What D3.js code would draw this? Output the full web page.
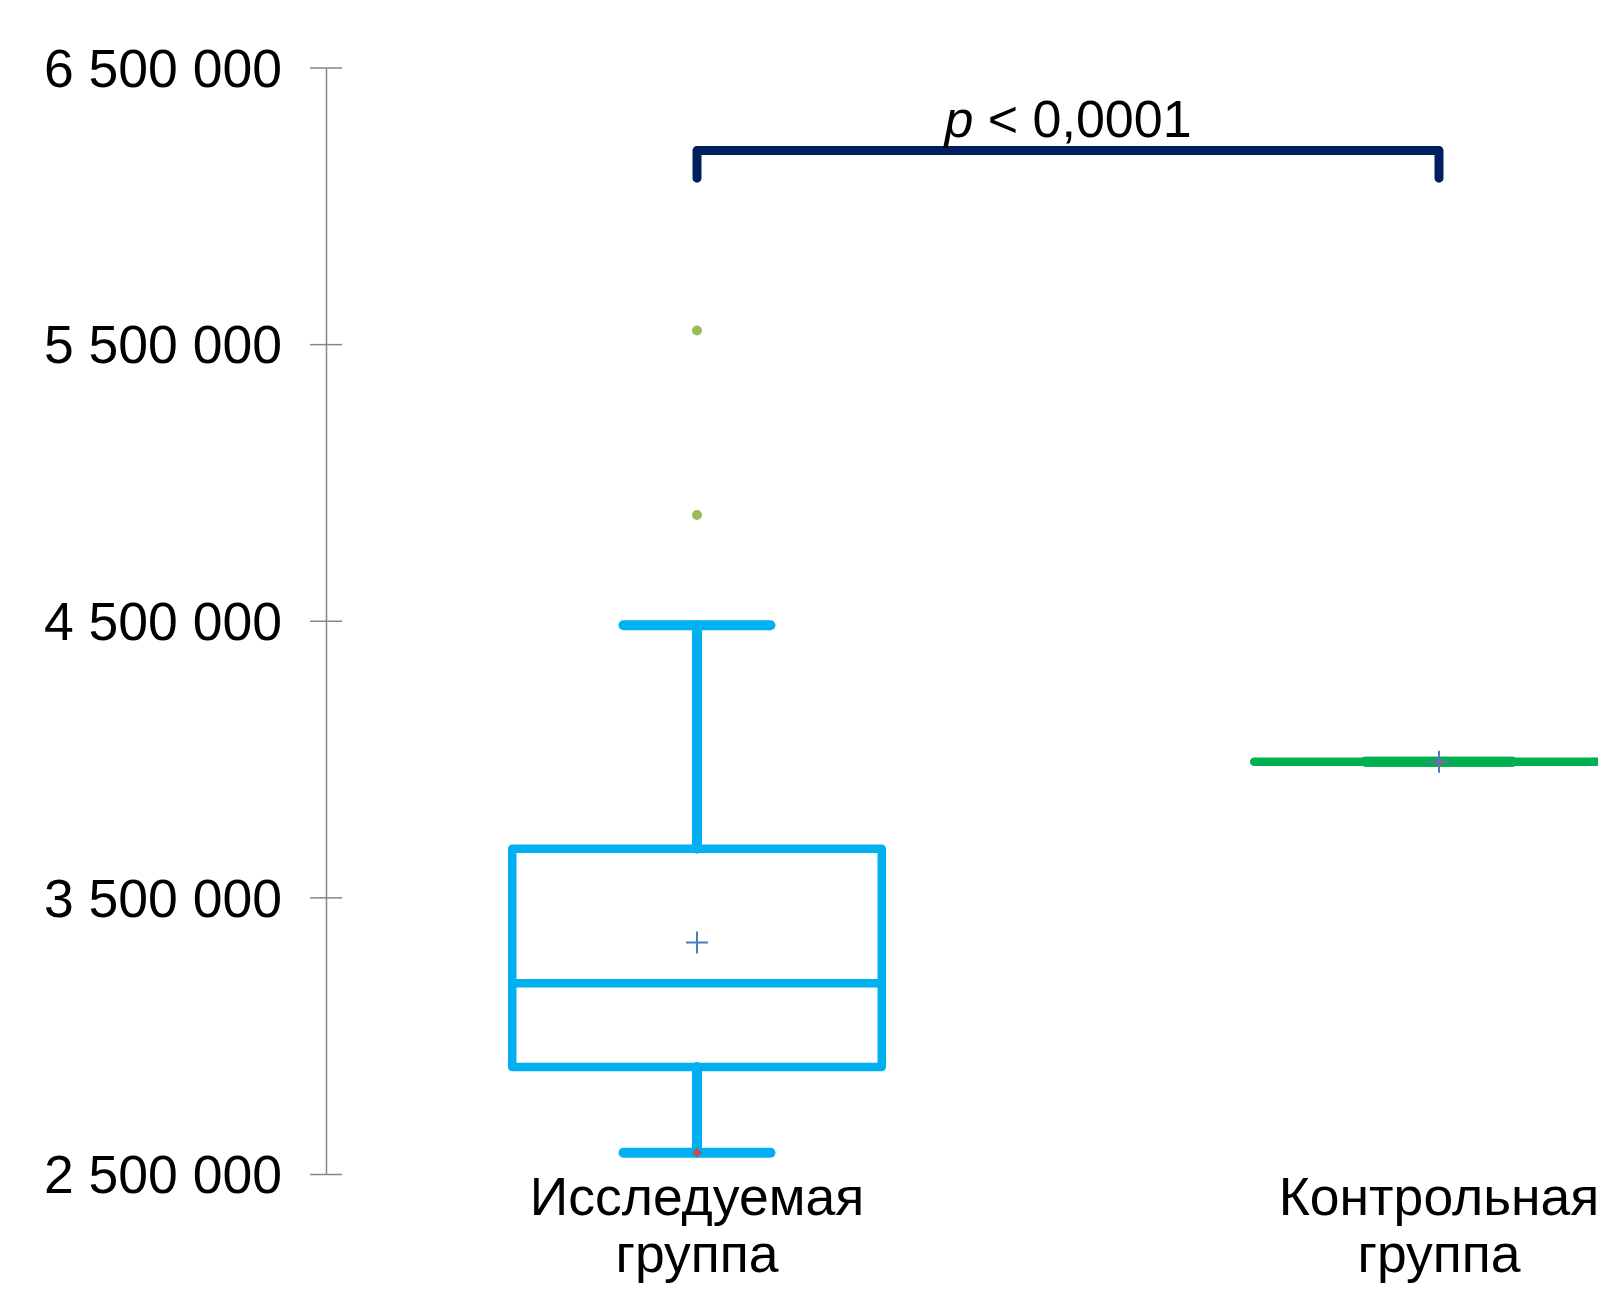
<!DOCTYPE html>
<html>
<head>
<meta charset="utf-8">
<script src="https://cdn.jsdelivr.net/npm/d3@7"></script>
<style>
  body { margin: 0; background: #fff; }
  svg { display: block; font-family: "Liberation Sans", Arial, sans-serif; }
</style>
</head>
<body>
<script>
// data
const categories = ['Исследуемая группа', 'Контрольная группа'];
const whiskerLow = [2577000, 3990000];
const q1 = [2887000, 3990000];
const median = [3190000, 3990000];
const q3 = [3676000, 3990000];
const whiskerHigh = [4484000, 3990000];
const means = [3337000, 3990000];
const minimums = [2577000, 3990000];
const outliers = [[5549000, 4882000], []];
const boxColors = ['#00b0f0', '#00b050'];
const yTicks = [2500000, 3500000, 4500000, 5500000, 6500000];
const pLabel = '< 0,0001';
const bracketTop = 6200000;
const bracketBottom = 6100000;

// constants
const width = 1598;
const height = 1290;

const fmt = d3.formatLocale({ decimal: ',', thousands: ' ', grouping: [3], currency: ['', ''] }).format(',d');

const svg = d3.select('body')
  .append('svg')
  .attr('width', width)
  .attr('height', height);

const y = d3.scaleLinear()
  .domain([2500000, 6500000])
  .range([1174, 67.5]);

// the second band runs past the right edge, like in the picture
const x = d3.scaleBand()
  .domain(categories)
  .range([326, 326 + 2 * 742]);

const cx = (i) => x(categories[i]) + x.bandwidth() / 2;
const boxHalf = x.bandwidth() * 0.249;
const capHalf = x.bandwidth() * 0.099;

// y axis
const axis = svg.append('g')
  .attr('transform', 'translate(326,0)')
  .call(d3.axisLeft(y).tickValues(yTicks).tickFormat(fmt).tickSize(0).tickPadding(44));
axis.select('.domain').attr('stroke', '#868686').attr('stroke-width', 1.5);
axis.selectAll('.tick line')
  .attr('x1', -16).attr('x2', 16)
  .attr('stroke', '#868686').attr('stroke-width', 1.5);
axis.selectAll('.tick text')
  .attr('font-size', 53.5)
  .attr('font-family', '"Liberation Sans", Arial, sans-serif')
  .attr('fill', '#000')
  .attr('dy', '0.35em');

// category labels
categories.forEach((c, i) => {
  const words = c.split(' ');
  const t = svg.append('text')
    .attr('x', cx(i))
    .attr('y', 1215)
    .attr('text-anchor', 'middle')
    .attr('font-size', 53.5)
    .attr('fill', '#000');
  words.forEach((w, k) => {
    t.append('tspan').attr('x', cx(i)).attr('dy', k === 0 ? 0 : 57).text(w);
  });
});

// boxes
const g = svg.selectAll('g.box')
  .data(categories)
  .join('g')
  .attr('class', 'box')
  .attr('fill', 'none')
  .attr('stroke-width', 10)
  .attr('stroke-linecap', 'round')
  .attr('stroke-linejoin', 'round');

g.each(function drawBox(d, i) {
  const el = d3.select(this).attr('stroke', boxColors[i]);
  const c = cx(i);
  // whiskers
  el.append('line').attr('x1', c).attr('x2', c).attr('y1', y(q3[i])).attr('y2', y(whiskerHigh[i]));
  el.append('line').attr('x1', c).attr('x2', c).attr('y1', y(q1[i])).attr('y2', y(whiskerLow[i]));
  el.append('line').attr('x1', c - capHalf).attr('x2', c + capHalf)
    .attr('y1', y(whiskerHigh[i])).attr('y2', y(whiskerHigh[i]));
  el.append('line').attr('x1', c - capHalf).attr('x2', c + capHalf)
    .attr('y1', y(whiskerLow[i])).attr('y2', y(whiskerLow[i]));
  // box
  el.append('rect')
    .attr('x', c - boxHalf)
    .attr('y', y(q3[i]))
    .attr('width', boxHalf * 2)
    .attr('height', Math.max(0, y(q1[i]) - y(q3[i])))
    .attr('stroke-width', q1[i] === q3[i] ? 10 : 8.5);
  el.append('line').attr('x1', c - boxHalf).attr('x2', c + boxHalf)
    .attr('y1', y(median[i])).attr('y2', y(median[i]))
    .attr('stroke-width', 8.5);
});

// outliers
categories.forEach((c, i) => {
  svg.selectAll(null)
    .data(outliers[i])
    .join('circle')
    .attr('cx', cx(i))
    .attr('cy', (d) => y(d))
    .attr('r', 5)
    .attr('fill', '#9bbb59');
});

// minimum markers (red diamonds)
svg.selectAll('path.min')
  .data(minimums)
  .join('path')
  .attr('class', 'min')
  .attr('d', d3.symbol(d3.symbolDiamond2, 60))
  .attr('transform', (d, i) => `translate(${cx(i)},${y(d)})`)
  .attr('fill', '#c0504d');

// mean markers (crosses)
svg.selectAll('path.mean')
  .data(means)
  .join('path')
  .attr('class', 'mean')
  .attr('d', 'M-11,0H11M0,-11V11')
  .attr('transform', (d, i) => `translate(${cx(i)},${y(d)})`)
  .attr('stroke', '#4a7ebb')
  .attr('stroke-width', 2)
  .attr('fill', 'none');

// significance bracket
const bx0 = cx(0);
const bx1 = cx(1);
svg.append('path')
  .attr('d', `M${bx0},${y(bracketBottom)}V${y(bracketTop)}H${bx1}V${y(bracketBottom)}`)
  .attr('fill', 'none')
  .attr('stroke', '#002060')
  .attr('stroke-width', 9)
  .attr('stroke-linecap', 'round')
  .attr('stroke-linejoin', 'round');

const pt = svg.append('text')
  .attr('x', (bx0 + bx1) / 2)
  .attr('y', 137)
  .attr('text-anchor', 'middle')
  .attr('font-size', 52)
  .attr('fill', '#000');
pt.append('tspan').attr('font-style', 'italic').text('p');
pt.append('tspan').text(' ' + pLabel);
</script>
</body>
</html>
